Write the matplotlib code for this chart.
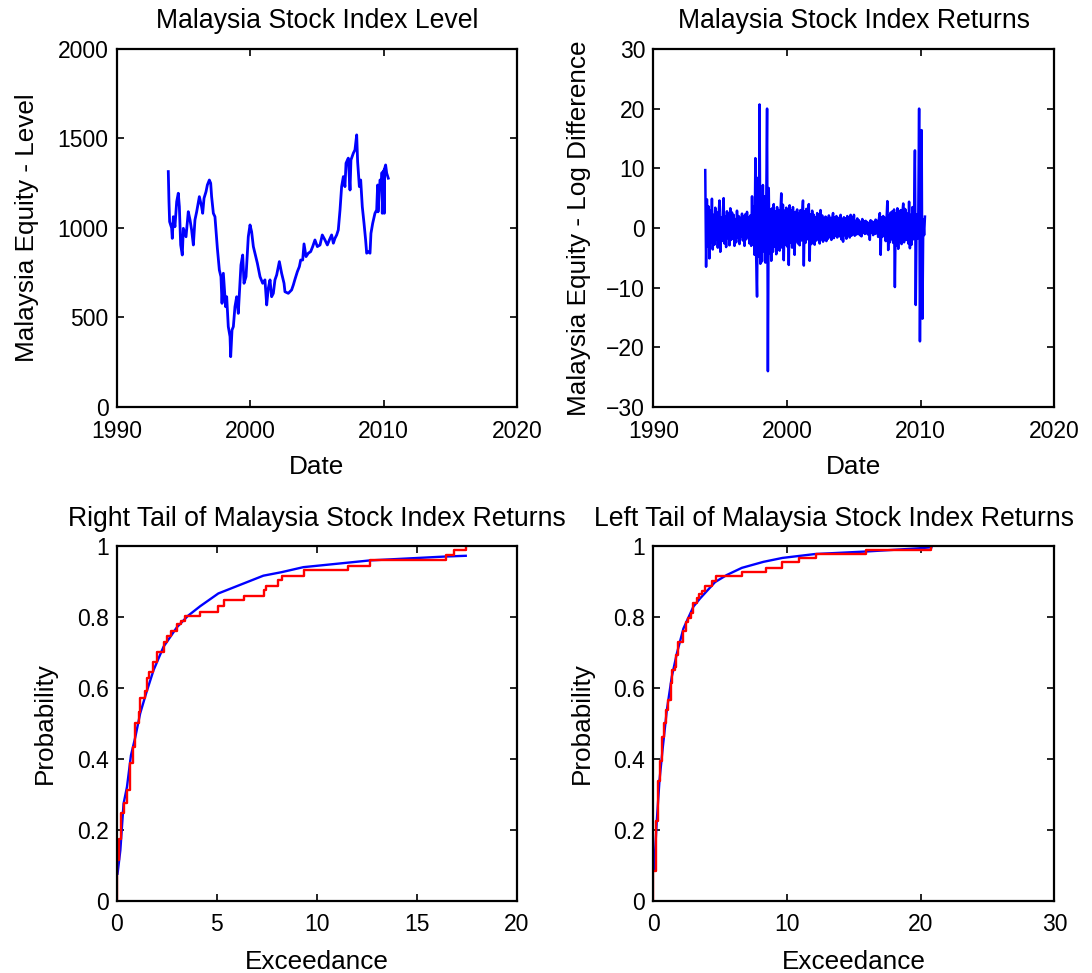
import numpy as np
import matplotlib.pyplot as plt

plt.rcParams['font.family'] = ['Liberation Sans', 'DejaVu Sans']
plt.rcParams['font.size'] = 16
plt.rcParams['axes.titlesize'] = 19.2
plt.rcParams['axes.labelsize'] = 18.8
plt.rcParams['xtick.labelsize'] = 16.5
plt.rcParams['ytick.labelsize'] = 16.5

# Malaysia stock index level (decimal year, index level)
level_dates = [1993.85, 1993.90, 1993.95, 1994.10, 1994.15, 1994.23, 1994.35, 1994.48, 1994.60,
               1994.68, 1994.78, 1994.90, 1994.98, 1995.18, 1995.35, 1995.48, 1995.60, 1995.73,
               1995.85, 1995.98, 1996.18, 1996.35, 1996.43, 1996.53, 1996.68, 1996.78, 1996.93,
               1997.03, 1997.10, 1997.23, 1997.35, 1997.53, 1997.68, 1997.80, 1997.88, 1997.98,
               1998.05, 1998.15, 1998.23, 1998.35, 1998.48, 1998.53, 1998.63, 1998.73, 1998.85,
               1998.98, 1999.10, 1999.18, 1999.30, 1999.43, 1999.53, 1999.68, 1999.85, 1999.98,
               2000.10, 2000.23, 2000.35, 2000.53, 2000.73, 2000.93, 2001.10, 2001.23, 2001.35,
               2001.48, 2001.60, 2001.73, 2001.85, 2001.98, 2002.18, 2002.35, 2002.53, 2002.60,
               2002.85, 2003.10, 2003.23, 2003.35, 2003.53, 2003.68, 2003.78, 2003.93, 2004.03,
               2004.18, 2004.35, 2004.53, 2004.68, 2004.85, 2005.03, 2005.23, 2005.40, 2005.60,
               2005.78, 2005.93, 2006.10, 2006.23, 2006.35, 2006.48, 2006.60, 2006.73, 2006.85,
               2006.98, 2007.10, 2007.18, 2007.35, 2007.48, 2007.55, 2007.73, 2007.85, 2007.98,
               2008.05, 2008.18, 2008.28, 2008.40, 2008.53, 2008.65, 2008.73, 2008.85, 2008.98,
               2009.05, 2009.18, 2009.35, 2009.48, 2009.55, 2009.58, 2009.73, 2009.85, 2009.88,
               2009.90, 2009.93, 2010.03, 2010.05, 2010.07, 2010.15, 2010.23, 2010.35]
level_vals = [1315, 1150, 1035, 1000, 942, 1063, 1007, 1147, 1194,
              1119, 905, 849, 998, 951, 1091, 1045, 989, 905,
              1045, 1091, 1175, 1119, 1082, 1166, 1203, 1240, 1268,
              1250, 1175, 1082, 1063, 887, 765, 728, 579, 747,
              672, 560, 616, 449, 393, 281, 430, 449, 560,
              616, 523, 635, 793, 849, 691, 728, 951, 1017,
              979, 896, 859, 803, 728, 691, 710, 570, 663,
              710, 616, 635, 710, 738, 812, 747, 691, 644,
              635, 654, 682, 713, 756, 784, 821, 821, 911,
              840, 859, 868, 896, 933, 896, 905, 961, 933,
              905, 933, 961, 915, 942, 961, 989, 1101, 1231,
              1287, 1231, 1362, 1390, 1212, 1380, 1418, 1436, 1520,
              1371, 1231, 1268, 1119, 1026, 933, 859, 868, 859,
              970, 1026, 1082, 1101, 1240, 1090, 1268, 1250, 1310,
              1082, 1300, 1324, 1082, 1330, 1352, 1306, 1278]

# log-difference returns in percent, 16 observations per year starting 1993.875
ret_start = 1993.875
ret_per_year = 16
ret_vals = [
    9.7, -6.5, 4.8, -3.1, 3.6, -5.1, 2.9, -2.4, 4.9, -3.6, 2.2, -2.8, 3.4, -1.9, 2.6, -3.3,
    2.1, 4.6, -4.0, 1.8, -2.2, 2.5, 5.0, -2.6, 1.9, -3.2, 2.8, -1.7, 2.4, -2.9, 3.3, -2.0,
    2.6, -1.8, 2.2, -3.0, 1.5, -2.4, 2.9, -1.6, 2.0, -2.7, 1.7, -1.4, 2.4, -2.1, 1.9, -3.0,
    2.3, -1.9, 2.7, -1.5, 1.8, -2.6, 2.1, -3.0, 5.3, -2.8, 3.6, -4.5, 11.7, -5.2, -11.5, 8.4,
    -4.8, 20.7, -6.0, 4.4, -5.6, 7.2, -3.9, 5.3, -5.8, 3.7, 20.0, -24.0, 6.7, -4.2, 3.1, -5.5,
    3.3, -4.0, 4.0, -3.1, 2.8, -4.4, 3.5, -2.6, 3.0, -3.8, 2.5, 5.8, -3.3, 3.9, -5.4, 2.9,
    -2.8, 3.4, -3.1, 2.6, -6.2, 3.8, -2.4, 2.9, -3.3, 3.5, -2.0, -4.5, 2.7, -2.2, 3.1, -2.6,
    2.4, -2.9, 3.0, -2.1, 2.2, 4.6, -6.3, 2.8, -2.5, 3.2, -1.9, 2.6, 4.0, -5.5, 2.3, -2.7,
    2.9, -2.4, 2.2, -2.8, 1.8, -2.1, 2.5, -1.7, 2.3, -2.6, 3.0, -1.9, 2.1, -2.3, 1.6, -2.0,
    1.9, -2.2, 1.6, -1.8, 2.1, -1.5, 1.7, -2.0, 1.4, 2.5, -1.7, 1.8, -1.3, 2.0, -1.6, 1.5,
    1.7, -1.4, 2.2, -1.9, 1.5, -2.3, 1.8, -1.2, 1.6, -1.8, 2.0, -1.1, 1.4, -1.6, 2.2, -1.3,
    1.8, -1.0, 2.2, -1.3, 1.2, -1.1, 1.6, -0.9, 1.3, -1.2, 1.0, -1.4, 1.5, -0.8, 1.1, -1.0,
    1.2, -0.9, 1.0, -1.1, 0.8, -2.0, 1.3, -0.8, 1.1, -1.2, 0.9, -1.0, 1.4, -0.9, 1.2, -1.5,
    1.6, 2.5, -4.5, 1.8, -1.5, 2.0, -1.3, 1.7, -2.2, 1.4, 4.5, -3.7, 2.1, -2.4, 2.6, -1.9,
    2.8, -2.5, 3.1, -9.9, 2.4, -2.9, 3.3, -3.5, 2.6, -2.2, 3.0, -2.7, 2.5, 4.1, -2.4, 3.2,
    3.0, -2.0, 2.4, -2.6, 4.4, -3.4, 2.2, -2.8, 3.5, -1.9, 2.1, 13.0, -12.9, 2.3, -1.8, 1.6,
    20.0, -19.0, 2.2, 16.4, -15.2, 1.4, -1.2, 1.9,
]
ret_dates = ret_start + np.arange(len(ret_vals)) / ret_per_year

# right tail: empirical cdf steps and fitted GPD cdf
rt_x = [0.0, 0.0, 0.098, 0.198, 0.331, 0.498, 0.631, 0.780, 0.914, 1.08, 1.163, 1.413,
        1.496, 1.596, 1.779, 1.995, 2.36, 2.495, 2.727, 2.994, 3.194, 3.393, 4.16, 5.07,
        5.37, 6.37, 7.35, 7.45, 8.07, 8.24, 9.37, 11.53, 12.65, 16.44, 16.86, 17.44]
rt_p = [0.0, 0.115, 0.174, 0.247, 0.275, 0.313, 0.388, 0.435, 0.502, 0.533, 0.571, 0.592,
        0.627, 0.646, 0.674, 0.700, 0.728, 0.745, 0.761, 0.780, 0.787, 0.803, 0.815, 0.831,
        0.847, 0.859, 0.876, 0.886, 0.904, 0.916, 0.932, 0.944, 0.959, 0.973, 0.989, 1.0]
rt_fit_x = [0.03, 0.17, 0.33, 0.5, 0.7, 0.92, 1.16, 1.46, 1.83, 2.33, 3.0, 3.55, 4.16,
            5.07, 7.32, 8.24, 9.32, 12.65, 16.44, 17.44]
rt_fit_p = [0.077, 0.143, 0.274, 0.321, 0.41, 0.462, 0.528, 0.585, 0.65, 0.716, 0.771,
            0.803, 0.83, 0.866, 0.916, 0.926, 0.94, 0.959, 0.970, 0.972]

# left tail: empirical cdf steps and fitted GPD cdf
lt_x = [0.0, 0.0, 0.177, 0.327, 0.501, 0.676, 0.80, 0.925, 1.124, 1.30, 1.424, 1.623,
        1.70, 1.872, 2.246, 2.42, 2.62, 2.795, 2.99, 3.24, 3.42, 3.62, 3.87, 4.37, 4.66,
        6.61, 8.43, 9.60, 10.92, 12.17, 15.88, 20.77]
lt_p = [0.0, 0.085, 0.226, 0.339, 0.395, 0.461, 0.502, 0.537, 0.565, 0.614, 0.650, 0.659,
        0.694, 0.730, 0.760, 0.786, 0.796, 0.810, 0.840, 0.852, 0.864, 0.874, 0.887, 0.902,
        0.915, 0.927, 0.938, 0.954, 0.965, 0.977, 0.987, 1.0]
lt_fit_x = [0.05, 0.25, 0.45, 0.70, 1.0, 1.37, 1.75, 2.24, 2.99, 3.49, 4.61, 5.49, 6.61,
            8.23, 9.65, 12.1, 15.86, 19.83, 20.8]
lt_fit_p = [0.089, 0.226, 0.339, 0.433, 0.537, 0.631, 0.697, 0.767, 0.829, 0.852, 0.898,
            0.918, 0.938, 0.955, 0.966, 0.977, 0.984, 0.993, 0.996]


def style_axes(ax, ylab_x, xlab_y):
    ax.tick_params(direction='in', top=True, right=True, length=5, width=1.2)
    ax.tick_params(axis='x', pad=9)
    ax.tick_params(axis='y', pad=6)
    for sp in ax.spines.values():
        sp.set_linewidth(1.6)
    ax.yaxis.set_label_coords(ylab_x, 0.5)
    ax.xaxis.set_label_coords(0.5, xlab_y)


fig = plt.figure(figsize=(10.92, 9.73), dpi=100)
ax1 = fig.add_axes([0.1071, 0.5817, 0.3663, 0.3680])
ax2 = fig.add_axes([0.5984, 0.5817, 0.3672, 0.3680])
ax3 = fig.add_axes([0.1071, 0.0740, 0.3663, 0.3650])
ax4 = fig.add_axes([0.5984, 0.0740, 0.3672, 0.3650])

ax1.plot(level_dates, level_vals, color='#0000ff', lw=2.0)
ax1.set_xlim(1990, 2020)
ax1.set_ylim(0, 2000)
ax1.set_xticks([1990, 2000, 2010, 2020])
ax1.set_yticks([0, 500, 1000, 1500, 2000])
ax1.set_title('Malaysia Stock Index Level', pad=15)
ax1.set_xlabel('Date')
ax1.set_ylabel('Malaysia Equity - Level')

ax2.plot(ret_dates, ret_vals, color='#0000ff', lw=1.8)
ax2.set_xlim(1990, 2020)
ax2.set_ylim(-30, 30)
ax2.set_xticks([1990, 2000, 2010, 2020])
ax2.set_yticks([-30, -20, -10, 0, 10, 20, 30])
ax2.set_title('Malaysia Stock Index Returns', pad=15)
ax2.set_xlabel('Date')
ax2.set_ylabel('Malaysia Equity - Log Difference')

ax3.plot(rt_fit_x, rt_fit_p, color='#0000ff', lw=1.7)
ax3.step(rt_x, rt_p, where='post', color='#ff0000', lw=1.7)
ax3.set_xlim(0, 20)
ax3.set_ylim(0, 1)
ax3.set_xticks([0, 5, 10, 15, 20])
ax3.set_title('Right Tail of Malaysia Stock Index Returns', pad=14)
ax3.set_xlabel('Exceedance')
ax3.set_ylabel('Probability')

ax4.plot(lt_fit_x, lt_fit_p, color='#0000ff', lw=1.7)
ax4.step(lt_x, lt_p, where='post', color='#ff0000', lw=1.7)
ax4.set_xlim(0, 30)
ax4.set_ylim(0, 1)
ax4.set_xticks([0, 10, 20, 30])
ax4.set_title('Left Tail of Malaysia Stock Index Returns', pad=14, x=0.45)
ax4.set_xlabel('Exceedance')
ax4.set_ylabel('Probability')

for ax in (ax3, ax4):
    ax.set_yticks([0, 0.2, 0.4, 0.6, 0.8, 1.0])
    ax.set_yticklabels(['0', '0.2', '0.4', '0.6', '0.8', '1'])

style_axes(ax1, -0.195, -0.135)
style_axes(ax2, -0.155, -0.135)
style_axes(ax3, -0.150, -0.138)
style_axes(ax4, -0.149, -0.138)

fig.savefig('out.png', dpi=100)
